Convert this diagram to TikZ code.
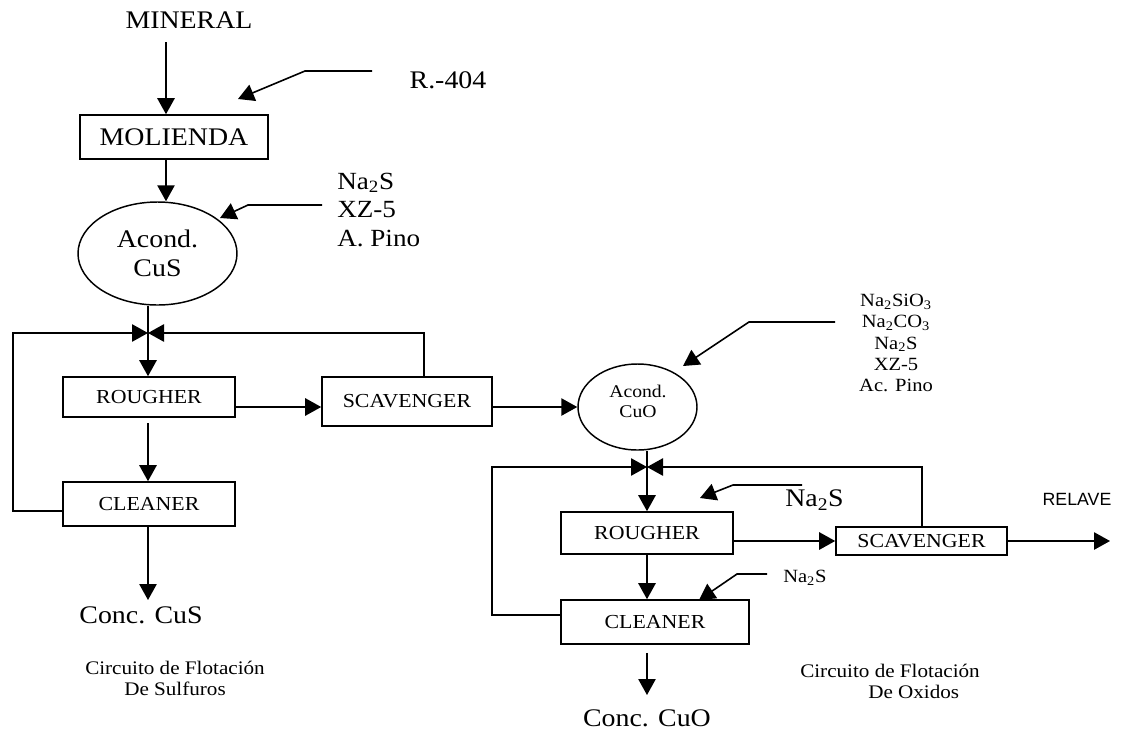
\documentclass[tikz,border=0pt]{standalone}
\usepackage{fontspec}
\setmainfont[FakeStretch=1.1]{Liberation Serif}
\newfontfamily\relfont{Liberation Sans}
\usetikzlibrary{arrows.meta,shapes.geometric}
\begin{document}
\begin{tikzpicture}[x=0.75pt,y=-0.75pt,
  box/.style={draw,line width=1.2pt,inner sep=0pt,font=\fontsize{14.9}{16}\selectfont},
  oval/.style={draw,ellipse,line width=1.1pt,inner sep=0pt},
  ln/.style={line width=1.2pt},
  arr/.style={line width=1.2pt,-{Triangle[length=12pt,width=13pt]}},
  big/.style={font=\fontsize{19}{22}\selectfont,inner sep=0pt},
  capt/.style={font=\fontsize{14.4}{15.75}\selectfont,inner sep=0pt},
  small/.style={inner sep=0pt}
]
\fill[white] (0,0) rectangle (1121,733);
\useasboundingbox (0,0) rectangle (1121,733);

% ---------- left circuit ----------
\node[big] (mineral) at (189,20) {MINERAL};
\node[box,minimum width=141pt,minimum height=33pt,font=\fontsize{19}{22}\selectfont] (moliend) at (174,137) {MOLIENDA};
\node[big] (r404) at (448,80) {R.-404};
\node[small,align=left,anchor=west,font=\fontsize{18.5}{21.4}\selectfont] (reag1) at (337,210) {Na\textsubscript{2}S\\XZ-5\\A. Pino};
\node[oval,minimum width=119.25pt,minimum height=77.25pt,align=center,font=\fontsize{19}{21.75}\selectfont] (cus) at (157.5,253.5) {Acond.\\CuS};
\node[box,minimum width=129pt,minimum height=30pt] (rough1) at (149,397) {ROUGHER};
\node[box,minimum width=127.5pt,minimum height=36.75pt] (scav1) at (407,401.5) {SCAVENGER};
\node[box,minimum width=129pt,minimum height=33pt] (clean1) at (149,504) {CLEANER};
\node[big] (conc1) at (141,615) {Conc. CuS};
\node[capt,align=center] (circ1) at (175,678) {Circuito de Flotación\\De Sulfuros};

\coordinate (m1) at (166,42);
\draw[arr] (m1) -- (m1 |- moliend.north);
\coordinate (ra) at (372,71);
\coordinate (rb) at (305,71);
\coordinate (rc) at (238,99);
\draw[arr] (ra) -- (rb) -- (rc);
\draw[arr] (moliend.south -| m1) -- (m1 |- cus.north);
\coordinate (na) at (322,205);
\coordinate (nb) at (248,205);
\coordinate (nc) at (220,218);
\draw[arr] (na) -- (nb) -- (nc);
\coordinate (j1) at (148,333);
\draw[ln] (cus.south -| j1) -- (j1);
\draw[arr] (j1) -- (j1 |- rough1.north);
\coordinate (f1) at (13,511);
\draw[arr] (clean1.west |- f1) -- (f1) -- (f1 |- j1) -- (j1);
\coordinate (s1) at (424,333);
\draw[arr] (s1 |- scav1.north) -- (s1) -- (j1);
\coordinate (a1) at (0,407);
\draw[arr] (rough1.east |- a1) -- (scav1.west |- a1);
\draw[arr,shorten <=4pt] (rough1.south -| j1) -- (j1 |- clean1.north);
\coordinate (c1) at (148,600);
\draw[arr] (clean1.south -| j1) -- (c1);

% ---------- right circuit ----------
\node[small,align=center,font=\fontsize{14}{16.1}\selectfont] (reag2) at (896,343) {Na\textsubscript{2}SiO\textsubscript{3}\\Na\textsubscript{2}CO\textsubscript{3}\\Na\textsubscript{2}S\\XZ-5\\Ac. Pino};
\node[oval,minimum width=89.25pt,minimum height=64.5pt] (cuo) at (637.5,407) {};
\node[small,align=center,font=\fontsize{13.4}{15}\selectfont] (cuotxt) at (638,401) {Acond.\\CuO};
\node[box,minimum width=129pt,minimum height=31.5pt] (rough2) at (647,533) {ROUGHER};
\node[big,anchor=west] (na2sA) at (785,500) {Na\textsubscript{2}S};
\node[box,minimum width=128.25pt,minimum height=21pt] (scav2) at (921.5,541) {SCAVENGER};
\node[small,font=\relfont\fontsize{13.3}{15}\selectfont] (relave) at (1077,499) {RELAVE};
\node[small,anchor=west,font=\fontsize{14}{16}\selectfont] (na2sB) at (783,578) {Na\textsubscript{2}S};
\node[box,minimum width=141pt,minimum height=33pt] (clean2) at (655,622) {CLEANER};
\node[big] (conc2) at (647,718) {Conc. CuO};
\node[capt,align=left,anchor=west] (circ2) at (800,681) {Circuito de Flotación\\\hspace*{51pt}De Oxidos};

\draw[arr] (scav1.east |- cuo.west) -- (cuo.west);
\coordinate (pa) at (835,322);
\coordinate (pb) at (749,322);
\coordinate (pc) at (683,366);
\draw[arr] (pa) -- (pb) -- (pc);
\coordinate (j2) at (647,467);
\draw[ln] (cuo.south -| j2) -- (j2);
\draw[arr] (j2) -- (j2 |- rough2.north);
\coordinate (f2) at (492,615);
\draw[arr] (clean2.west |- f2) -- (f2) -- (f2 |- j2) -- (j2);
\coordinate (s2) at (922,467);
\draw[arr] (s2 |- scav2.north) -- (s2) -- (j2);
\draw[arr] (rough2.east |- scav2.west) -- (scav2.west);
\coordinate (rl) at (1110,541);
\draw[arr] (scav2.east) -- (rl);
\draw[arr] (rough2.south -| j2) -- (j2 |- clean2.north);
\coordinate (c2) at (647,695);
\draw[arr,shorten <=6pt] (clean2.south -| j2) -- (c2);
\coordinate (qa) at (802,485);
\coordinate (qb) at (733,485);
\coordinate (qc) at (700,498);
\draw[arr] (qa) -- (qb) -- (qc);
\coordinate (ua) at (767,574);
\coordinate (ub) at (737,574);
\coordinate (uc) at (699,600);
\draw[arr] (ua) -- (ub) -- (uc);
\end{tikzpicture}
\end{document}
